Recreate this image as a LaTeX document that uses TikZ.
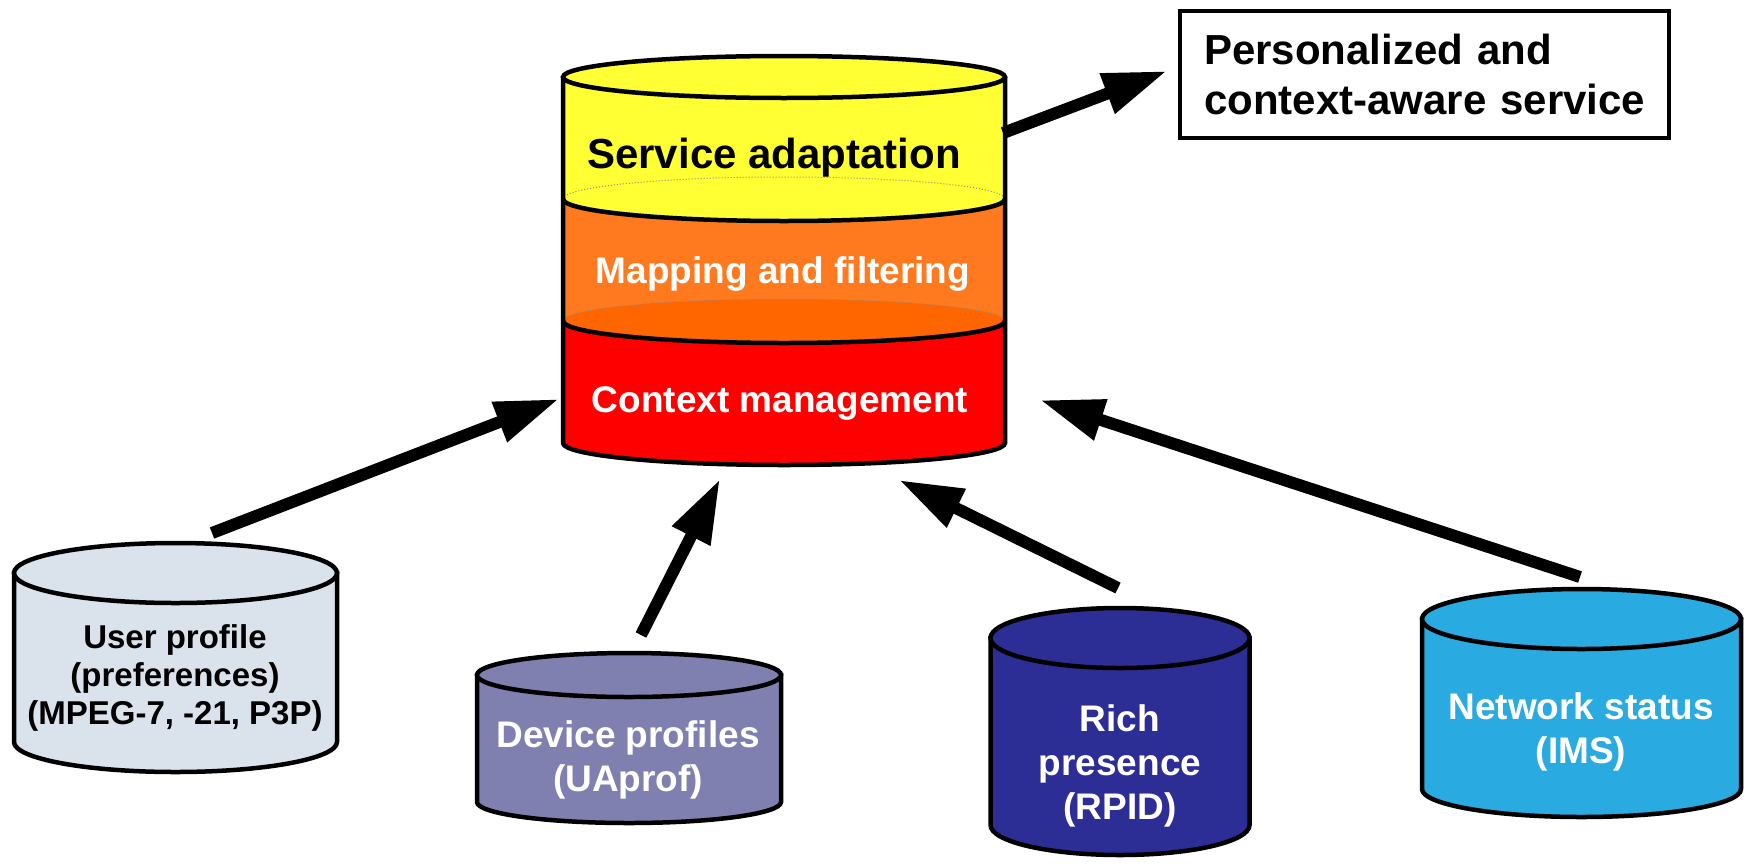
\documentclass[tikz,border=0pt]{standalone}
\usepackage{fontspec}
\setmainfont{Liberation Sans}
\usetikzlibrary{arrows.meta}
\definecolor{cyyellow}{RGB}{255,255,51}
\definecolor{cyorange}{RGB}{255,122,31}
\definecolor{cyorangedk}{RGB}{255,102,0}
\definecolor{cyred}{RGB}{255,0,0}
\definecolor{cyuser}{RGB}{218,227,236}
\definecolor{cydev}{RGB}{128,128,176}
\definecolor{cyrich}{RGB}{45,45,150}
\definecolor{cynet}{RGB}{41,171,226}
\newcommand\drawcyl[7]{%
  \filldraw[fill=#7, cylline] ({#1-#2},#3) -- ({#1-#2},#5)
    arc[start angle=180, end angle=0, x radius=#2, y radius=#6] -- ({#1+#2},#3) -- cycle;
  \filldraw[fill=#7, cylline] (#1,#3) ellipse[x radius=#2, y radius=#4];
}
\begin{document}
\begin{tikzpicture}[x=1pt, y=-1pt,
  cylline/.style={line width=4.5pt, draw=black},
  biglbl/.style={font=\bfseries\fontsize{37}{44}\selectfont, inner sep=0pt, anchor=base},
  smalllbl/.style={font=\bfseries\fontsize{37}{44}\selectfont, inner sep=0pt, align=center, text=white},
  conn/.style={line width=12pt, -{Triangle[length=64pt, width=40pt]}},
]
\useasboundingbox (0,0) rectangle (1744,865);

% ---------- main cylinder ----------
\fill[cyred] (563,321) -- (563,443) arc[start angle=180, end angle=0, x radius=221, y radius=22] -- (1005,321) -- cycle;
\fill[cyorange] (563,199) -- (563,321) arc[start angle=180, end angle=0, x radius=221, y radius=22] -- (1005,199) -- cycle;
\fill[cyorangedk] (784,321) ellipse[x radius=221, y radius=22];
\fill[cyyellow] (563,77) -- (563,199) arc[start angle=180, end angle=0, x radius=221, y radius=22] -- (1005,77) -- cycle;
\draw[black!45, dotted, line width=1pt] (563,199) arc[start angle=180, end angle=360, x radius=221, y radius=22];
\draw[black!45, dotted, line width=1pt] (563,321) arc[start angle=180, end angle=360, x radius=221, y radius=22];
\draw[cylline] (563,199) arc[start angle=180, end angle=0, x radius=221, y radius=22];
\draw[cylline] (563,321) arc[start angle=180, end angle=0, x radius=221, y radius=22];
\draw[cylline] (563,77) -- (563,443) arc[start angle=180, end angle=0, x radius=221, y radius=22] -- (1005,77);
\filldraw[fill=cyyellow, cylline] (784,77) ellipse[x radius=221, y radius=21];

\node[biglbl, font=\bfseries\fontsize{42}{50}\selectfont] (svc) at (774,168) {Service adaptation};
\node[biglbl, text=white] (map) at (783,283) {Mapping and filtering};
\node[biglbl, text=white] (ctx) at (780,412) {Context management};

% ---------- output box ----------
\node[draw, line width=4pt, minimum width=489pt, minimum height=127pt, inner xsep=24pt,
      text width=441pt, align=left, font=\bfseries\fontsize{42}{50}\selectfont]
  (box) at (1424.5,74.5) {\mbox{Personalized and}\\\mbox{context-aware service}};

% ---------- source cylinders ----------
\drawcyl{175.5}{161.5}{573}{30}{742}{30}{cyuser}
\node[smalllbl, text=black, font=\bfseries\fontsize{33}{38}\selectfont] (user) at (175,678)
  {User profile\\(preferences)\\(MPEG-7, -21, P3P)};

\drawcyl{629}{152}{675}{22}{802}{21}{cydev}
\node[smalllbl] (dev) at (628,760) {Device profiles\\(UAprof)};

\drawcyl{1120}{129.5}{638}{30}{825}{30}{cyrich}
\node[smalllbl] (rich) at (1120,766) {Rich\\presence\\(RPID)};

\drawcyl{1581.5}{159.5}{619}{30}{789}{28}{cynet}
\node[smalllbl] (net) at (1581,732) {Network status\\(IMS)};

% ---------- connector end points ----------
\coordinate (svcout) at (1003,133);
\coordinate (boxin) at (1167,71);
\coordinate (usertop) at (212,533);
\coordinate (ctxleft) at (559,399);
\coordinate (devtop) at (641,635);
\coordinate (ctxbl) at (720,479);
\coordinate (richtop) at (1118,588);
\coordinate (ctxbr) at (899,480);
\coordinate (nettop) at (1580,577);
\coordinate (ctxright) at (1040,400);

\draw[conn] (svcout) -- (boxin);
\draw[conn] (usertop) -- (ctxleft);
\draw[conn] (devtop) -- (ctxbl);
\draw[conn] (richtop) -- (ctxbr);
\draw[conn] (nettop) -- (ctxright);
\end{tikzpicture}
\end{document}
